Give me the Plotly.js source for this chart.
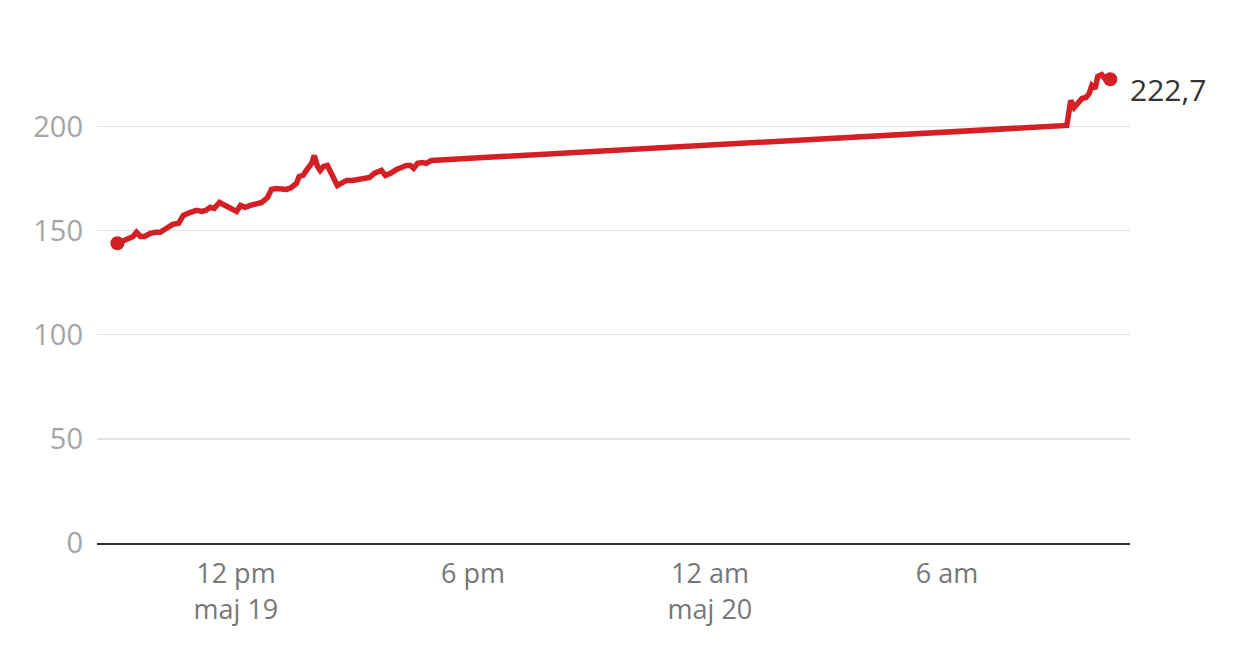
<!DOCTYPE html>
<html>
<head>
<meta charset="utf-8">
<script src="https://cdn.plot.ly/plotly-3.0.1.min.js"></script>
<style>
html,body{margin:0;padding:0;background:#fff;}
#chart{width:1260px;height:660px;}
</style>
</head>
<body>
<div id="chart"></div>
<script>
// Timestamps (local time)
const times = [
  "2024-05-19 09:00","2024-05-19 09:08","2024-05-19 09:17","2024-05-19 09:24","2024-05-19 09:29",
  "2024-05-19 09:35","2024-05-19 09:41","2024-05-19 09:50","2024-05-19 09:58","2024-05-19 10:05",
  "2024-05-19 10:14","2024-05-19 10:24","2024-05-19 10:33","2024-05-19 10:40","2024-05-19 10:51",
  "2024-05-19 11:00","2024-05-19 11:08","2024-05-19 11:14","2024-05-19 11:21","2024-05-19 11:27",
  "2024-05-19 11:35","2024-05-19 11:44","2024-05-19 11:53","2024-05-19 12:01","2024-05-19 12:07",
  "2024-05-19 12:14","2024-05-19 12:22","2024-05-19 12:31","2024-05-19 12:39","2024-05-19 12:48",
  "2024-05-19 12:54","2024-05-19 13:01","2024-05-19 13:09","2024-05-19 13:17","2024-05-19 13:24",
  "2024-05-19 13:32","2024-05-19 13:36","2024-05-19 13:42","2024-05-19 13:47","2024-05-19 13:55",
  "2024-05-19 13:59","2024-05-19 14:04","2024-05-19 14:08","2024-05-19 14:13","2024-05-19 14:19",
  "2024-05-19 14:25","2024-05-19 14:30","2024-05-19 14:34","2024-05-19 14:40","2024-05-19 14:48",
  "2024-05-19 14:57","2024-05-19 15:06","2024-05-19 15:15","2024-05-19 15:23","2024-05-19 15:30",
  "2024-05-19 15:36","2024-05-19 15:41","2024-05-19 15:47","2024-05-19 15:55","2024-05-19 16:04",
  "2024-05-19 16:11","2024-05-19 16:19","2024-05-19 16:25","2024-05-19 16:30","2024-05-19 16:36",
  "2024-05-19 16:43","2024-05-19 16:49","2024-05-19 16:57",
  "2024-05-20 09:02","2024-05-20 09:08","2024-05-20 09:13","2024-05-20 09:19","2024-05-20 09:25",
  "2024-05-20 09:31","2024-05-20 09:36","2024-05-20 09:40","2024-05-20 09:45","2024-05-20 09:49",
  "2024-05-20 09:55","2024-05-20 10:00","2024-05-20 10:08"
];
const prices = [
  143.9,144.8,146.3,147.2,149.2,
  147.2,147.2,148.7,149.2,149.2,
  151.0,153.0,153.5,157.3,158.8,
  159.7,159.2,159.7,161.2,160.7,
  163.5,162.1,160.2,159.2,162.1,
  161.2,162.1,162.6,163.5,165.9,
  169.8,170.2,169.8,169.8,170.7,
  172.7,176.0,176.5,178.9,182.3,
  186.1,180.8,178.9,180.8,181.3,
  177.9,174.6,171.7,172.7,174.1,
  174.1,174.6,174.6,175.5,177.5,
  177.9,178.9,176.5,177.5,179.4,
  180.3,181.3,181.3,179.9,182.3,
  182.7,182.3,183.7,
  200.5,212.5,209.1,211.0,213.4,
  213.9,215.8,219.7,218.2,224.0,
  224.9,223.0,222.7
];
const yTickVals = [0, 50, 100, 150, 200];
const xTickVals = ["2024-05-19 12:00","2024-05-19 18:00","2024-05-20 00:00","2024-05-20 06:00"];
const xTickText = ["12 pm<br>maj 19","6 pm","12 am<br>maj 20","6 am"];

const red = "#d41f24";
const n = prices.length;
const lastLabel = String(prices[n-1]).replace(".", ",");

const traces = [
  {
    x: times, y: prices, type: "scatter", mode: "lines",
    line: {color: red, width: 5.5, shape: "linear"},
    hoverinfo: "skip", showlegend: false
  },
  {
    x: [times[0], times[n-1]], y: [prices[0], prices[n-1]],
    type: "scatter", mode: "markers",
    marker: {color: red, size: 14},
    hoverinfo: "skip", showlegend: false
  }
];

const layout = {
  width: 1260, height: 660,
  margin: {l: 97, r: 130, t: 64, b: 117},
  paper_bgcolor: "#fff", plot_bgcolor: "#fff",
  separators: ", ",
  font: {family: "Open Sans, sans-serif", color: "#999"},
  showlegend: false,
  xaxis: {
    type: "date",
    range: ["2024-05-19 08:29", "2024-05-20 10:38"],
    tickvals: xTickVals, ticktext: xTickText,
    tickfont: {size: 27, color: "#777", family: "Open Sans, sans-serif"},
    showgrid: false, zeroline: false,
    showline: true, linecolor: "#333", linewidth: 2,
    ticks: "", ticklabelstandoff: 6,
    fixedrange: true
  },
  yaxis: {
    range: [0, 230],
    tickvals: yTickVals,
    tickfont: {size: 29, color: "#a5a5a5", family: "Open Sans, sans-serif"},
    showgrid: true, gridcolor: "#e3e3e3", gridwidth: 1.5,
    zeroline: false, showline: false,
    ticks: "", ticklabelstandoff: 13,
    fixedrange: true
  },
  annotations: [{
    x: times[n-1], y: prices[n-1], xref: "x", yref: "y",
    text: lastLabel, showarrow: false,
    xanchor: "left", yanchor: "middle",
    xshift: 18, yshift: -10,
    font: {size: 30, color: "#333", family: "Open Sans, sans-serif"}
  }]
};

Plotly.newPlot("chart", traces, layout, {displayModeBar: false, staticPlot: true});
</script>
</body>
</html>
